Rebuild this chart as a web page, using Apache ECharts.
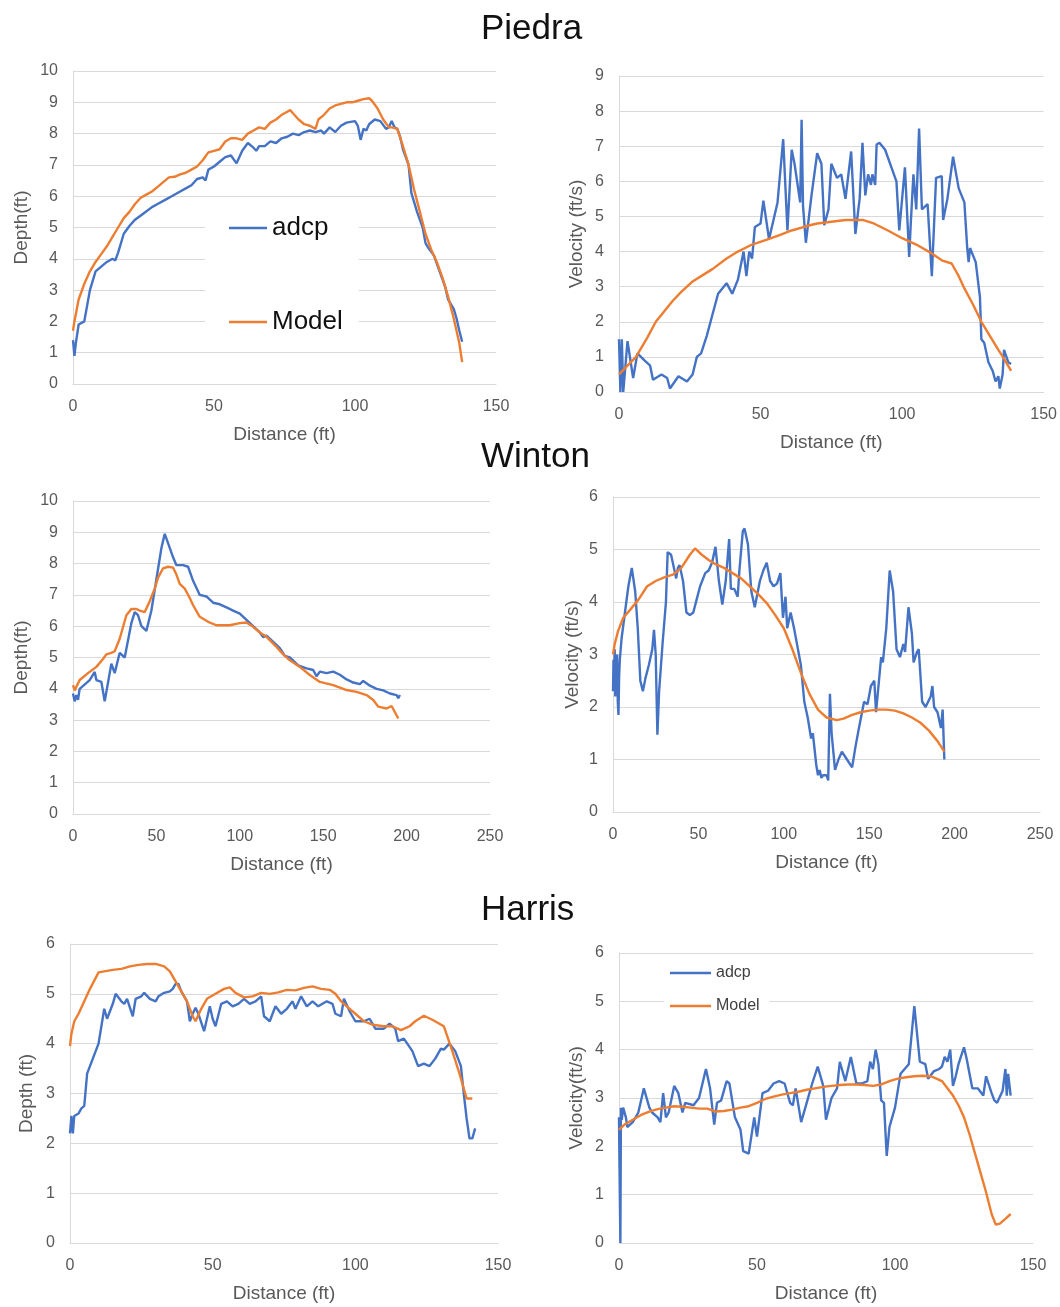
<!DOCTYPE html>
<html>
<head>
<meta charset="utf-8">
<script src="https://cdn.jsdelivr.net/npm/echarts@6/dist/echarts.min.js"></script>
<style>
  html, body { margin: 0; padding: 0; background: #fff; }
  #main { width: 1060px; height: 1307px; }
</style>
</head>
<body>
<div id="main"></div>
<script>
// site names and labels
var siteNames = ['Piedra', 'Winton', 'Harris'];
var seriesNames = ['adcp', 'Model'];
var xAxisName = 'Distance (ft)';
var yAxisNames = ['Depth(ft)', 'Velocity (ft/s)', 'Depth(ft)', 'Velocity (ft/s)', 'Depth (ft)', 'Velocity(ft/s)'];
var xMaxes = [150, 150, 250, 250, 150, 150];
var yMaxes = [10, 9, 10, 6, 6, 6];

// Piedra  [distance, value]
var piedraDepthAdcp = [[0,1.4],[0.5,0.9],[1,1.3],[2,1.9],[4,2.0],[5,2.5],[6,3.0],[8,3.6],[10,3.75],[12,3.9],[14,4.0],[15,3.95],[16,4.2],[18,4.8],[20,5.05],[22,5.25],[25,5.45],[28,5.65],[30,5.75],[33,5.9],[35,6.0],[38,6.15],[40,6.25],[42,6.35],[44,6.55],[46,6.6],[47,6.5],[48,6.85],[50,6.95],[52,7.1],[54,7.25],[56,7.3],[58,7.05],[60,7.45],[62,7.7],[64,7.55],[65,7.45],[66,7.6],[68,7.6],[70,7.75],[72,7.7],[74,7.85],[76,7.9],[78,8.0],[80,7.95],[82,8.05],[84,8.1],[86,8.05],[88,8.1],[89,8.0],[91,8.2],[93,8.05],[95,8.25],[97,8.35],[100,8.4],[101,8.25],[102,7.8],[103,8.15],[104,8.1],[105,8.3],[107,8.45],[109,8.4],[111,8.15],[112,8.2],[113,8.4],[114,8.2],[115,8.15],[116,7.9],[117,7.5],[119,7.0],[120,6.1],[121,5.8],[122,5.5],[124,5.0],[125,4.5],[126,4.35],[128,4.1],[130,3.6],[132,3.1],[133,2.7],[135,2.4],[136,2.1],[137,1.7],[138,1.35]];
var piedraDepthModel = [[0,1.7],[0.5,2.0],[2,2.7],[4,3.2],[6,3.6],[8,3.9],[10,4.15],[12,4.4],[14,4.7],[16,5.0],[18,5.3],[20,5.5],[22,5.75],[24,5.95],[26,6.05],[28,6.15],[30,6.3],[32,6.45],[34,6.6],[36,6.62],[38,6.7],[40,6.75],[42,6.85],[44,6.95],[46,7.15],[48,7.4],[50,7.45],[52,7.5],[54,7.75],[56,7.85],[58,7.85],[60,7.8],[62,8.0],[64,8.1],[66,8.2],[68,8.15],[70,8.35],[72,8.45],[74,8.6],[76,8.7],[77,8.75],[78,8.65],[80,8.45],[82,8.3],[84,8.25],[86,8.15],[87,8.45],[89,8.6],[91,8.8],[93,8.9],[95,8.95],[97,9.0],[99,9.0],[101,9.05],[103,9.1],[105,9.13],[106,9.05],[108,8.8],[110,8.45],[112,8.2],[113,8.2],[115,8.15],[117,7.6],[119,7.0],[121,6.2],[123,5.5],[125,4.8],[127,4.3],[129,3.9],[131,3.4],[133,2.8],[135,2.1],[137,1.3],[138,0.7]];
var piedraVelAdcp = [[0,1.5],[0.5,0],[1,1.5],[1.5,0],[3,1.45],[5,0.4],[6.5,1.1],[9,0.9],[11,0.75],[12,0.35],[15,0.5],[17,0.4],[18,0.1],[21,0.45],[24,0.3],[26,0.5],[27.5,1.0],[29,1.1],[31,1.6],[33,2.2],[35,2.8],[38,3.1],[40,2.8],[42,3.2],[44,4.0],[45,3.3],[46,4.0],[47,3.8],[48,4.7],[50,4.8],[51,5.45],[53,4.35],[56,5.4],[58,7.2],[59.5,4.6],[61,6.9],[62,6.5],[64,5.4],[64.5,7.75],[65,5.3],[66,4.25],[68,5.6],[70,6.8],[71.5,6.5],[72.5,4.75],[74,5.2],[75,6.5],[77,6.1],[78.5,6.2],[80,5.5],[82,6.85],[83.5,4.5],[85,5.5],[86,7.1],[87,5.6],[88,6.2],[89,5.9],[89.5,6.2],[90.5,5.9],[91,7.05],[92,7.1],[94,6.9],[98,6.0],[99,4.6],[101,6.4],[102.5,3.85],[103,4.7],[104,6.2],[105,5.2],[106,7.5],[107,5.2],[109,5.35],[110.5,3.3],[112,6.1],[114,6.15],[114.5,4.9],[116,5.5],[118,6.7],[120,5.8],[122,5.4],[123,4.1],[123.5,3.7],[124,4.1],[126,3.7],[127.5,2.7],[128,1.5],[129,1.4],[130.5,0.85],[132,0.6],[133,0.3],[134,0.45],[134.5,0.1],[135.5,0.5],[136,1.2],[137.5,0.85],[138.5,0.8]];
var piedraVelModel = [[0,0.5],[3,0.75],[6,1.0],[10,1.55],[13,2.0],[16,2.3],[19,2.6],[22,2.85],[26,3.15],[30,3.35],[33,3.5],[38,3.8],[42,4.0],[47,4.2],[52,4.33],[56,4.45],[61,4.6],[66,4.72],[70,4.8],[75,4.85],[80,4.9],[86,4.9],[90,4.8],[95,4.6],[100,4.38],[105,4.2],[110,3.97],[114,3.75],[117.5,3.66],[120,3.3],[122,2.95],[125,2.5],[128,2.0],[131,1.6],[134,1.2],[136,0.95],[138.5,0.6]];

// Winton
var wintonDepthAdcp = [[0,3.85],[1,3.6],[2,3.8],[3,3.65],[4,4.0],[5,4.06],[10,4.28],[13,4.54],[14,4.28],[17,4.22],[19,3.6],[23,4.8],[25,4.5],[28,5.15],[31,5.0],[35,6.1],[37,6.45],[39,6.35],[41,6.0],[44,5.85],[47,6.5],[50,7.5],[53,8.5],[55,8.95],[58,8.5],[60,8.2],[62,7.95],[66,7.95],[69,7.9],[72,7.45],[76,7.0],[80,6.95],[84,6.75],[88,6.7],[92,6.6],[96,6.5],[100,6.4],[104,6.2],[108,6.0],[112,5.8],[114,5.65],[116,5.7],[120,5.5],[124,5.3],[127,5.05],[130,5.0],[135,4.75],[140,4.65],[144,4.6],[146,4.4],[148,4.55],[152,4.5],[156,4.55],[160,4.45],[164,4.3],[168,4.2],[172,4.15],[174,4.25],[178,4.1],[182,4.0],[186,3.95],[190,3.85],[194,3.8],[195,3.7],[196,3.8]];
var wintonDepthModel = [[0,4.12],[1,3.95],[4,4.28],[9,4.5],[14,4.7],[18,4.95],[20,5.1],[23,5.15],[25,5.2],[28,5.6],[32,6.35],[35,6.55],[38,6.55],[40,6.5],[43,6.45],[46,6.8],[49,7.2],[51,7.55],[54,7.85],[57,7.9],[60,7.87],[62,7.65],[64,7.35],[67,7.2],[70,6.9],[72,6.67],[76,6.3],[81,6.14],[86,6.03],[94,6.03],[100,6.1],[104,6.12],[108,5.98],[112,5.8],[116,5.66],[122,5.34],[126,5.1],[130,4.91],[136,4.7],[142,4.44],[148,4.22],[156,4.12],[164,3.96],[170,3.9],[176,3.8],[180,3.64],[183,3.43],[188,3.37],[191,3.45],[195,3.05]];
var wintonVelAdcp = [[0,2.3],[0.3,2.9],[0.6,2.4],[1,3.1],[1.3,2.2],[1.7,2.8],[2,2.5],[2.4,3.0],[2.8,2.1],[3.2,1.85],[3.6,2.6],[4,2.9],[5,3.3],[7,3.8],[9,4.3],[11,4.65],[13,4.2],[14.5,3.5],[16,2.5],[17.5,2.3],[19,2.55],[21,2.8],[23,3.1],[24,3.47],[25,3.0],[26,1.47],[27,2.3],[29,3.2],[31,4.0],[32,4.95],[34,4.9],[36,4.6],[37,4.45],[38,4.65],[39,4.7],[41,4.4],[43,3.8],[45,3.75],[47,3.8],[49,4.05],[51,4.3],[54,4.55],[56,4.6],[58,4.75],[60,5.05],[62,4.4],[64,3.95],[66,4.4],[68,5.2],[69,4.25],[71,4.25],[73,4.1],[74,4.6],[76,5.35],[77,5.4],[79,5.1],[81,4.2],[83,3.9],[86,4.4],[88,4.6],[90,4.75],[92,4.4],[94,4.3],[96,4.35],[98,4.55],[99.5,3.7],[101,4.1],[102,3.5],[104,3.8],[106,3.5],[108,3.15],[110,2.8],[112,2.1],[114,1.8],[116,1.4],[117,1.5],[119,0.9],[120,0.7],[121,0.8],[122,0.65],[123,0.7],[125,0.7],[126,0.6],[127,2.25],[128,1.5],[130,0.8],[132,1.0],[134,1.15],[137,1.0],[140,0.85],[142,1.25],[144,1.6],[147,2.1],[149,2.05],[151,2.4],[153,2.5],[154,1.9],[157,2.95],[158,2.85],[160,3.5],[162,4.6],[164,4.2],[166,3.1],[168,2.95],[170,3.2],[171,3.05],[173,3.9],[175,3.4],[176,2.85],[178,3.05],[179,3.1],[181,2.1],[183,2.0],[186,2.2],[187,2.4],[188,2.0],[190,1.9],[192,1.6],[193,1.95],[194,1.0]];
var wintonVelModel = [[0,3.0],[1,3.2],[3,3.45],[6,3.7],[10,3.85],[15,4.05],[20,4.3],[25,4.4],[30,4.47],[35,4.52],[40,4.65],[45,4.9],[48,5.02],[52,4.9],[56,4.8],[60,4.72],[65,4.65],[70,4.55],[75,4.45],[80,4.3],[85,4.15],[90,3.98],[95,3.75],[100,3.5],[105,3.1],[110,2.65],[115,2.25],[120,1.95],[125,1.8],[131,1.75],[135,1.78],[140,1.85],[145,1.9],[150,1.93],[155,1.95],[160,1.95],[165,1.93],[170,1.88],[175,1.8],[180,1.7],[185,1.55],[190,1.35],[194,1.15]];

// Harris
var harrisDepthAdcp = [[0,2.2],[0.5,2.55],[1,2.2],[1.5,2.55],[3,2.6],[4,2.7],[5,2.75],[6,3.4],[8,3.7],[10,4.0],[11,4.35],[12,4.7],[13,4.5],[15,4.8],[16,5.0],[18,4.85],[19,4.8],[20,4.9],[22,4.55],[23,4.9],[25,4.95],[26,5.02],[28,4.9],[30,4.85],[31,4.95],[33,5.02],[35,5.05],[36,5.1],[37,5.2],[38,5.2],[39,5.05],[41,4.85],[42,4.45],[43,4.6],[44,4.72],[45,4.6],[47,4.25],[49,4.75],[50,4.5],[51,4.35],[53,4.8],[55,4.85],[57,4.75],[59,4.8],[61,4.9],[63,4.8],[65,4.85],[67,4.95],[68,4.55],[70,4.45],[72,4.75],[74,4.6],[76,4.7],[78,4.85],[79,4.7],[81,4.95],[83,4.75],[85,4.85],[87,4.75],[90,4.85],[92,4.8],[93,4.6],[95,4.55],[96,4.9],[98,4.65],[100,4.45],[103,4.45],[105,4.5],[107,4.3],[110,4.3],[112,4.4],[114,4.3],[115,4.05],[117,4.1],[120,3.85],[122,3.55],[124,3.6],[126,3.55],[128,3.7],[130,3.9],[131,3.88],[133,4.0],[135,3.85],[137,3.55],[138,3.0],[139,2.5],[140,2.1],[141,2.1],[142,2.3]];
var harrisDepthModel = [[0,3.95],[0.5,4.2],[1.5,4.45],[3,4.6],[5,4.85],[7,5.1],[10,5.43],[12,5.45],[15,5.48],[18,5.5],[21,5.55],[24,5.58],[27,5.6],[30,5.6],[33,5.55],[35,5.45],[37,5.25],[39,5.05],[41,4.85],[43,4.55],[44,4.45],[46,4.7],[48,4.9],[51,5.0],[54,5.1],[56,5.13],[58,5.02],[61,4.93],[64,4.95],[67,5.02],[70,5.0],[73,5.03],[76,5.08],[79,5.07],[82,5.12],[85,5.15],[88,5.1],[91,5.08],[93,5.0],[95,4.85],[97,4.75],[100,4.6],[103,4.45],[106,4.38],[110,4.35],[113,4.35],[116,4.27],[119,4.35],[121,4.45],[124,4.56],[127,4.48],[131,4.35],[132.5,4.1],[134,3.85],[136.5,3.4],[139,2.9],[141,2.9]];
var harrisVelAdcp = [[0,2.6],[0.2,1.5],[0.5,0],[0.7,2.8],[1,2.55],[1.5,2.8],[2.5,2.6],[3,2.4],[5,2.5],[7,2.7],[9,3.2],[11,2.8],[12,2.7],[14,2.6],[15,2.5],[16,3.1],[17,2.6],[18,2.7],[20,3.25],[21.5,3.1],[23,2.7],[24,2.9],[27,2.85],[29,3.0],[31.5,3.6],[33,3.2],[34.5,2.45],[35.5,2.9],[37,2.95],[39,3.35],[40,3.3],[42,2.6],[44,2.35],[45,1.9],[47,1.85],[49,2.6],[50,2.2],[52,3.1],[54,3.15],[56,3.3],[58,3.35],[60,3.3],[62,2.9],[63,2.85],[64,3.2],[66,2.5],[68,2.9],[70,3.3],[72,3.65],[74,3.25],[75,2.55],[77,3.0],[79,3.2],[80,3.75],[82,3.35],[84,3.85],[86,3.3],[88,3.3],[90,3.35],[91,3.75],[92,3.6],[93,4.0],[94,3.7],[95,2.95],[96,2.9],[97,1.8],[98,2.4],[100,2.8],[102,3.5],[105,3.7],[107,4.9],[109,3.75],[111,3.7],[112,3.4],[114,3.55],[116,3.6],[117,3.65],[118,3.85],[119,3.75],[120,4.0],[121,3.25],[122,3.45],[123,3.7],[125,4.05],[126,3.8],[128,3.2],[130,3.2],[132,3.05],[133,3.45],[135,3.1],[136,2.95],[137,2.9],[139,3.15],[140,3.6],[140.5,3.05],[141,3.5],[141.9,3.05]];
var harrisVelModel = [[0,2.34],[2,2.45],[5,2.55],[8,2.65],[11,2.72],[14,2.77],[17,2.8],[20,2.83],[23,2.82],[26,2.8],[29,2.78],[32,2.78],[35,2.72],[38,2.73],[41,2.76],[44,2.8],[47,2.83],[50,2.9],[53,2.98],[56,3.03],[59,3.07],[62,3.1],[65,3.13],[68,3.17],[71,3.2],[74,3.23],[77,3.25],[80,3.27],[83,3.28],[86,3.28],[89,3.27],[92,3.25],[95,3.28],[98,3.35],[101,3.4],[104,3.43],[107,3.45],[110,3.46],[113,3.45],[115,3.4],[117,3.35],[119,3.2],[121,3.05],[123,2.85],[125,2.6],[127,2.25],[129,1.85],[131,1.45],[133,1.05],[135,0.6],[136.5,0.38],[138,0.4],[140,0.5],[141.9,0.6]];

var panelData = [
  [piedraDepthAdcp, piedraDepthModel],
  [piedraVelAdcp, piedraVelModel],
  [wintonDepthAdcp, wintonDepthModel],
  [wintonVelAdcp, wintonVelModel],
  [harrisDepthAdcp, harrisDepthModel],
  [harrisVelAdcp, harrisVelModel]
];

// plot area of each panel (left, top, width, height)
var gridBoxes = [
  [73, 71, 423, 313],
  [619, 76, 427, 316],
  [73, 501, 417, 313],
  [613, 497, 427, 315],
  [70, 944, 428, 299],
  [619, 953, 414, 290]
];
var yNameGaps = [42, 33, 42, 31, 34, 33];
var titleTops = [12, 440, 893];

var FONT = 'Liberation Sans, Arial, sans-serif';
var GREY = '#595959';
var LINE_GREY = '#d9d9d9';
var COLORS = ['#4472c4', '#ed7d31'];

var chart = echarts.init(document.getElementById('main'));

var grids = [], xAxes = [], yAxes = [], series = [];
gridBoxes.forEach(function (b, i) {
  grids.push({ left: b[0], top: b[1], width: b[2], height: b[3], containLabel: false });
  xAxes.push({
    type: 'value', gridIndex: i, min: 0, max: xMaxes[i], interval: 50,
    name: xAxisName, nameLocation: 'middle', nameGap: 41,
    nameTextStyle: { fontSize: 19, color: GREY, fontFamily: FONT },
    axisLine: { show: true, lineStyle: { color: LINE_GREY, width: 1 } },
    axisTick: { show: false },
    splitLine: { show: false },
    axisLabel: { fontSize: 16, color: GREY, fontFamily: FONT, margin: 15 }
  });
  yAxes.push({
    type: 'value', gridIndex: i, min: 0, max: yMaxes[i], interval: 1,
    name: yAxisNames[i], nameLocation: 'middle', nameGap: yNameGaps[i],
    nameTextStyle: { fontSize: 19, color: GREY, fontFamily: FONT },
    axisLine: { show: true, lineStyle: { color: LINE_GREY, width: 1 } },
    axisTick: { show: false },
    splitLine: { show: true, lineStyle: { color: LINE_GREY, width: 1 } },
    axisLabel: { fontSize: 16, color: GREY, fontFamily: FONT, margin: 15 }
  });
  panelData[i].forEach(function (d, k) {
    series.push({
      name: seriesNames[k], type: 'line', xAxisIndex: i, yAxisIndex: i,
      data: d, symbol: 'none', showSymbol: false, smooth: false,
      lineStyle: { color: COLORS[k], width: 2.4 },
      itemStyle: { color: COLORS[k] }
    });
  });
});

var option = {
  backgroundColor: '#fff',
  animation: false,
  title: siteNames.map(function (s, i) {
    return { text: s, left: 481, top: titleTops[i], padding: 0,
      textStyle: { fontSize: 35, fontWeight: 'normal', color: '#111', fontFamily: FONT } };
  }),
  legend: [
    {
      data: seriesNames, orient: 'vertical', left: 205, top: 200,
      padding: [13, 16, 8, 24], itemGap: 64, itemWidth: 38, itemHeight: 2.5,
      icon: 'rect',
      backgroundColor: '#fff',
      textStyle: { fontSize: 26, lineHeight: 30, color: '#111', fontFamily: FONT }
    },
    {
      data: seriesNames, orient: 'vertical', left: 664, top: 958,
      padding: [6, 10, 4, 6], itemGap: 15, itemWidth: 41, itemHeight: 2.5,
      icon: 'rect',
      backgroundColor: '#fff',
      textStyle: { fontSize: 16, lineHeight: 18, color: '#404040', fontFamily: FONT }
    }
  ],
  grid: grids,
  xAxis: xAxes,
  yAxis: yAxes,
  series: series
};

chart.setOption(option);
</script>
</body>
</html>
